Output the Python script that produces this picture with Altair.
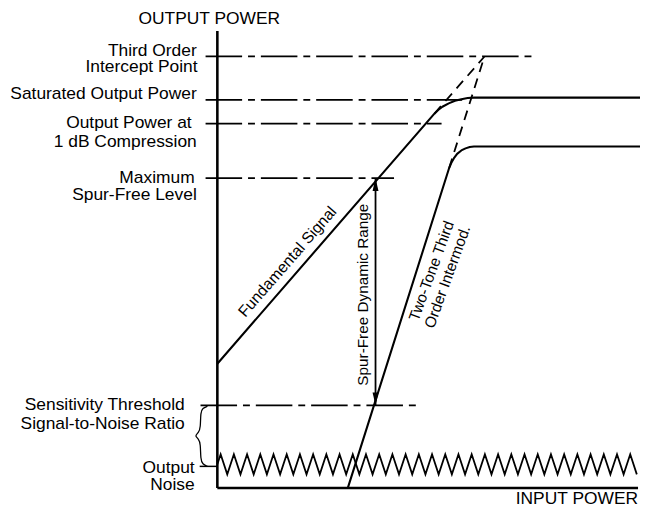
import altair as alt
import pandas as pd

FONT = "Liberation Sans"

# ---------------- schematic data (input / output power, arbitrary dB-like units 0..100) ----------
# reference levels (dash-dot lines)
level_y = [94.4, 84.9, 79.7, 67.8, 18.1]
level_x0 = [-2.8, -2.8, -2.8, -2.8, -4.0]
level_x1 = [74.9, 58.2, 53.3, 42.0, 47.2]

# fundamental signal (solid, with compression)
fund_x = [0.0, 51.6, 52.5, 53.5, 55.0, 56.5, 58.0, 59.5, 61.0, 100.5]
fund_y = [27.2, 81.9, 82.7, 83.4, 84.15, 84.7, 85.05, 85.3, 85.4, 85.4]
# extrapolated fundamental (dashed)
fund_ext_x = [51.6, 63.5]
fund_ext_y = [81.9, 94.4]

# two-tone third order intermod (solid)
im_x = [31.0, 55.1, 55.6, 56.2, 57.0, 58.0, 59.0, 60.0, 61.0, 100.5]
im_y = [0.0, 70.0, 71.1, 72.1, 73.1, 73.85, 74.3, 74.6, 74.7, 74.7]
# extrapolated intermod (dashed)
im_ext_x = [55.1, 63.5]
im_ext_y = [70.0, 94.4]

# output noise
noise_level = 5.2
noise_amp = 2.2
noise_teeth = 32
noise_end = 100.5

# spur-free dynamic range arrow
arrow_x = 37.6
arrow_y = [18.1, 67.8]

# brace between sensitivity threshold and noise
brace_x = [-2.35, -3.52, -3.99, -3.99, -4.46, -5.40, -4.46, -3.99, -3.99, -3.52, -2.35]
brace_y = [17.9, 17.5, 16.6, 13.2, 12.1, 11.4, 10.8, 9.7, 6.3, 5.2, 4.75]

# labels
left_text = ["Third Order", "Intercept Point", "Saturated Output Power", "Output Power at",
             "1 dB Compression", "Maximum", "Spur-Free Level", "Sensitivity Threshold",
             "Signal-to-Noise Ratio", "Output", "Noise"]
left_x = [-4.9, -4.7, -4.9, -6.1, -4.9, -5.4, -4.9, -7.75, -7.75, -5.4, -5.4]
left_y = [94.6, 90.9, 85.2, 78.8, 74.5, 66.7, 63.1, 17.1, 13.0, 3.24, -0.43]

# ---------------- layout ----------------
W, H = 640, 500
PX_X, PX_Y = 4.26, 4.63
OX, OY = 212, 483
xs = alt.Scale(domain=[-OX / PX_X, (W - OX) / PX_X], nice=False, zero=False)
ys = alt.Scale(domain=[-(H - OY) / PX_Y, OY / PX_Y], nice=False, zero=False)


def X(f="x"):
    return alt.X(f"{f}:Q", scale=xs, axis=None)


def Y(f="y"):
    return alt.Y(f"{f}:Q", scale=ys, axis=None)


# axes
axis_df = pd.DataFrame({"x": [0, 0], "y": [0, 0], "x2": [0, 100], "y2": [100, 0]})
axes = alt.Chart(axis_df).mark_rule(color="black", strokeWidth=2.6).encode(
    x=X(), y=Y(), x2="x2:Q", y2="y2:Q")

ref_df = pd.DataFrame({"x": level_x0, "x2": level_x1, "y": level_y})
refs = alt.Chart(ref_df).mark_rule(color="black", strokeWidth=1.8,
                                   strokeDash=[37, 6, 7, 6]).encode(
    x=X(), x2="x2:Q", y=Y())

curve_rows = []
for i, (a, b) in enumerate(zip(fund_x, fund_y)):
    curve_rows.append({"x": a, "y": b, "s": "fund", "o": i})
for i, (a, b) in enumerate(zip(im_x, im_y)):
    curve_rows.append({"x": a, "y": b, "s": "im", "o": i})
curves = alt.Chart(pd.DataFrame(curve_rows)).mark_line(
    color="black", strokeWidth=2.1, strokeJoin="round").encode(
    x=X(), y=Y(), detail="s:N", order="o:Q")

ext_df = pd.DataFrame({"x": [fund_ext_x[0], im_ext_x[0]], "y": [fund_ext_y[0], im_ext_y[0]],
                       "x2": [fund_ext_x[1], im_ext_x[1]], "y2": [fund_ext_y[1], im_ext_y[1]]})
exts = alt.Chart(ext_df).mark_rule(color="black", strokeWidth=1.8, strokeDash=[10, 7]).encode(
    x=X(), y=Y(), x2="x2:Q", y2="y2:Q")

# noise zigzag
h = noise_end / (2 * noise_teeth)
nz = [{"x": 0.0, "y": noise_level, "o": 0}]
for k in range(1, 2 * noise_teeth + 1):
    nz.append({"x": (k - 0.5) * h, "y": noise_level + (noise_amp if k % 2 else -noise_amp), "o": k})
noise = alt.Chart(pd.DataFrame(nz)).mark_line(color="black", strokeWidth=1.8,
                                              strokeJoin="miter").encode(
    x=X(), y=Y(), order="o:Q")

# brace + output tick
brace = alt.Chart(pd.DataFrame({"x": brace_x, "y": brace_y, "o": range(len(brace_x))})).mark_line(
    color="black", strokeWidth=1.3, interpolate="basis").encode(x=X(), y=Y(), order="o:Q")
tick_df = pd.DataFrame({"x": [-4.2], "x2": [0.0], "y": [4.75]})
tick = alt.Chart(tick_df).mark_rule(color="black", strokeWidth=1.5).encode(
    x=X(), x2="x2:Q", y=Y())

# arrow
arr_df = pd.DataFrame({"x": [arrow_x], "y": [arrow_y[0]], "y2": [arrow_y[1]]})
arrow = alt.Chart(arr_df).mark_rule(color="black", strokeWidth=1.8).encode(
    x=X(), y=Y(), y2="y2:Q")
head_up = alt.Chart(pd.DataFrame({"x": [arrow_x], "y": [arrow_y[1]]})).mark_point(
    shape="M0,0L-0.6,2.6L0.6,2.6Z", filled=True, color="black", size=100, opacity=1).encode(
    x=X(), y=Y())
head_dn = alt.Chart(pd.DataFrame({"x": [arrow_x], "y": [arrow_y[0]]})).mark_point(
    shape="M0,0L-0.6,-2.6L0.6,-2.6Z", filled=True, color="black", size=100, opacity=1).encode(
    x=X(), y=Y())

# labels
lab_df = pd.DataFrame({"x": left_x, "y": left_y, "t": left_text})
labels = alt.Chart(lab_df).mark_text(align="right", baseline="alphabetic", font=FONT,
                                     fontSize=17.6, color="black").encode(
    x=X(), y=Y(), text="t:N")

title_y = alt.Chart(pd.DataFrame({"x": [-1.9], "y": [101.5], "t": ["OUTPUT POWER"]})).mark_text(
    align="center", baseline="alphabetic", font=FONT, fontSize=17.6, color="black").encode(
    x=X(), y=Y(), text="t:N")
title_x = alt.Chart(pd.DataFrame({"x": [100.0], "y": [-3.46], "t": ["INPUT POWER"]})).mark_text(
    align="right", baseline="alphabetic", font=FONT, fontSize=17.6, color="black").encode(
    x=X(), y=Y(), text="t:N")

fund_lab = alt.Chart(pd.DataFrame({"x": [16.7], "y": [49.5], "t": ["Fundamental  Signal"]})).mark_text(
    align="center", baseline="middle", angle=311, font=FONT, fontSize=16, color="black").encode(
    x=X(), y=Y(), text="t:N")
sfdr_lab = alt.Chart(pd.DataFrame({"x": [34.7], "y": [42.3], "t": ["Spur-Free Dynamic Range"]})).mark_text(
    align="center", baseline="middle", angle=270, font=FONT, fontSize=15.5, color="black").encode(
    x=X(), y=Y(), text="t:N")
im_lab = alt.Chart(pd.DataFrame({"x": [50.9, 54.7], "y": [47.5, 46.2],
                                 "t": ["Two-Tone Third", "Order Intermod."]})).mark_text(
    align="center", baseline="middle", angle=290, font=FONT, fontSize=15.5, color="black").encode(
    x=X(), y=Y(), text="t:N")

chart = alt.layer(axes, refs, exts, curves, noise, brace, tick, arrow, head_up, head_dn,
                  labels, title_y, title_x, fund_lab, sfdr_lab, im_lab).properties(
    width=W, height=H, padding=0, autosize=alt.AutoSizeParams(type="none"),
    background="white").configure_view(strokeWidth=0)

chart.save("out.html", embed_options={"renderer": "svg", "actions": False})
